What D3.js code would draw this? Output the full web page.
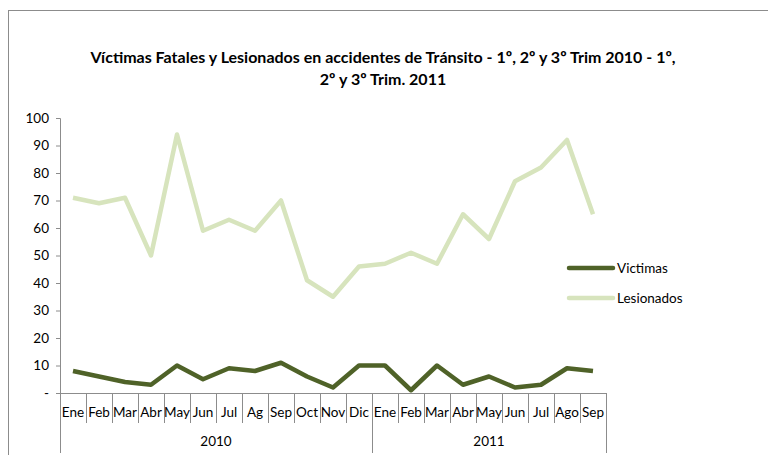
<!DOCTYPE html>
<html>
<head>
<meta charset="utf-8">
<script src="https://cdn.jsdelivr.net/npm/d3@7"></script>
<style>
  body { margin: 0; background: #fff; }
  svg { font-family: Lato, "Open Sans", sans-serif; }
</style>
</head>
<body>
<script>
// months shown on the axis, two years
var months = ["Ene","Feb","Mar","Abr","May","Jun","Jul","Ag","Sep","Oct","Nov","Dic",
              "Ene","Feb","Mar","Abr","May","Jun","Jul","Ago","Sep"];
var years = ["2010", "2011"];
var yearCounts = [12, 9];
var victimas = [8, 6, 4, 3, 10, 5, 9, 8, 11, 6, 2, 10, 10, 1, 10, 3, 6, 2, 3, 9, 8];
var lesionados = [71, 69, 71, 50, 94, 59, 63, 59, 70, 41, 35, 46, 47, 51, 47, 65, 56, 77, 82, 92, 65];
var yTicks = [0, 10, 20, 30, 40, 50, 60, 70, 80, 90, 100];

var width = 768, height = 455;
var margin = { left: 60, top: 118, right: 162, bottom: 62 };
var plotW = width - margin.left - margin.right; // 546
var plotH = height - margin.top - margin.bottom; // 275

var svg = d3.select("body").append("svg")
  .attr("width", width)
  .attr("height", height);

// chart frame
svg.append("rect")
  .attr("x", 8.5).attr("y", 10.5)
  .attr("width", 800).attr("height", 500)
  .attr("fill", "none")
  .attr("stroke", "#8c8c8c");

svg.append("text")
  .attr("x", 383).attr("y", 63)
  .attr("text-anchor", "middle")
  .attr("font-size", 16).attr("font-weight", "bold")
  .text("Víctimas Fatales y Lesionados en accidentes de Tránsito - 1º, 2º y 3º Trim 2010 - 1º,");
svg.append("text")
  .attr("x", 383).attr("y", 85)
  .attr("text-anchor", "middle")
  .attr("font-size", 16).attr("font-weight", "bold")
  .text("2º y 3º Trim. 2011");

var g = svg.append("g").attr("transform", "translate(" + margin.left + "," + margin.top + ")");

var x = d3.scaleBand().domain(d3.range(months.length)).range([0, plotW]);
var y = d3.scaleLinear().domain([0, 100]).range([plotH, 0]);

// y axis
var yAxis = d3.axisLeft(y).tickValues(yTicks).tickSize(4).tickPadding(7)
  .tickFormat(function(d) { return d === 0 ? "-" : d; });
var ya = g.append("g").call(yAxis);
ya.select(".domain").attr("stroke", "#8c8c8c");
ya.selectAll(".tick line").attr("stroke", "#8c8c8c");
ya.selectAll("text").attr("font-size", 13.5).attr("fill", "#000").attr("font-family", "Lato, sans-serif");

// x axis: category boundaries
var axisColor = "#8c8c8c";
g.append("line")
  .attr("x1", 0).attr("x2", plotW)
  .attr("y1", plotH + 0.5).attr("y2", plotH + 0.5)
  .attr("stroke", axisColor);

var starts = [0];
yearCounts.forEach(function(c, i) { starts.push(starts[i] + c); });

d3.range(months.length + 1).forEach(function(i) {
  var xx = i < months.length ? x(i) : plotW;
  var isYear = starts.indexOf(i) >= 0;
  g.append("line")
    .attr("x1", Math.round(xx) + 0.5).attr("x2", Math.round(xx) + 0.5)
    .attr("y1", plotH).attr("y2", isYear ? plotH + 60 : plotH + 30)
    .attr("stroke", axisColor);
});

g.selectAll(".mlabel")
  .data(months)
  .enter().append("text")
    .attr("class", "mlabel")
    .attr("x", function(d, i) { return x(i) + x.bandwidth() / 2; })
    .attr("y", plotH + 24)
    .attr("text-anchor", "middle")
    .attr("font-size", 13.5)
    .text(function(d) { return d; });

g.selectAll(".ylabel")
  .data(years)
  .enter().append("text")
    .attr("class", "ylabel")
    .attr("x", function(d, i) {
      var a = x(starts[i]);
      var b = starts[i + 1] < months.length ? x(starts[i + 1]) : plotW;
      return (a + b) / 2;
    })
    .attr("y", plotH + 53)
    .attr("text-anchor", "middle")
    .attr("font-size", 13.5)
    .text(function(d) { return d; });

// lines
var line = d3.line()
  .x(function(d, i) { return x(i) + x.bandwidth() / 2; })
  .y(function(d) { return y(d); });

g.append("path").datum(lesionados)
  .attr("d", line)
  .attr("fill", "none")
  .attr("stroke", "#d7e4bd")
  .attr("stroke-width", 4.5)
  .attr("stroke-linejoin", "round");

g.append("path").datum(victimas)
  .attr("d", line)
  .attr("fill", "none")
  .attr("stroke", "#4f6228")
  .attr("stroke-width", 4.5)
  .attr("stroke-linejoin", "round");

// legend
var legend = [{ name: "Victimas", color: "#4f6228" }, { name: "Lesionados", color: "#d7e4bd" }];
var lg = svg.append("g").attr("transform", "translate(569,268)");
legend.forEach(function(l, i) {
  lg.append("line")
    .attr("x1", 0).attr("x2", 44)
    .attr("y1", i * 30).attr("y2", i * 30)
    .attr("stroke", l.color)
    .attr("stroke-width", 4.5)
    .attr("stroke-linecap", "round");
  lg.append("text")
    .attr("x", 48).attr("y", i * 30 + 5)
    .attr("font-size", 13.5)
    .text(l.name);
});
</script>
</body>
</html>
